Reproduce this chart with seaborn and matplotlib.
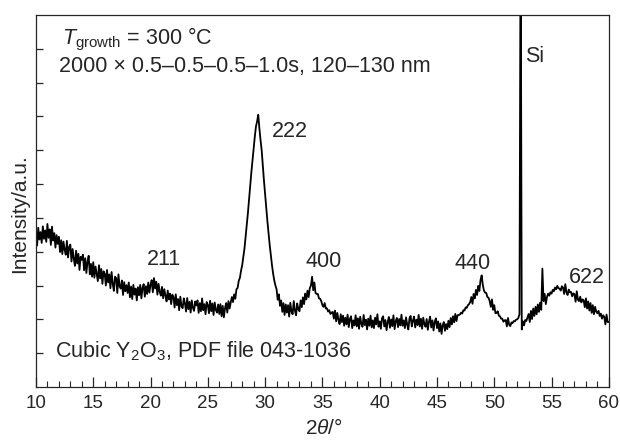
import numpy as np
import pandas as pd
import seaborn as sns
import matplotlib.pyplot as plt

# 2theta grid (0.1 deg steps) and counts
two_theta = np.round(np.arange(10.0, 60.05, 0.1), 1)
intensity = [
    452, 418, 471, 436, 458, 426, 475, 438, 463, 429,   # 10
    482, 441, 466, 420, 474, 433, 455, 412, 449, 423,   # 11
    444, 399, 434, 393, 430, 406, 391, 432, 383, 414,   # 12
    421, 371, 408, 380, 358, 403, 365, 394, 346, 385,   # 13
    376, 391, 345, 381, 337, 370, 388, 333, 364, 326,   # 14
    369, 323, 356, 335, 313, 360, 321, 349, 305, 342,   # 15
    335, 300, 346, 309, 333, 292, 340, 305, 284, 326,   # 16
    322, 278, 333, 297, 291, 315, 272, 310, 283, 301,   # 17
    278, 309, 265, 297, 260, 302, 273, 291, 256, 295,   # 18
    271, 302, 262, 293, 304, 267, 298, 275, 309, 279,   # 19
    303, 316, 280, 322, 291, 311, 273, 305, 282, 270,   # 20
    296, 262, 289, 270, 253, 285, 259, 276, 245, 273,   # 21
    266, 235, 274, 242, 260, 227, 267, 239, 233, 262,   # 22
    248, 223, 263, 230, 252, 220, 256, 234, 225, 253,   # 23
    241, 256, 219, 248, 224, 262, 227, 245, 215, 251,   # 24
    243, 218, 255, 224, 247, 213, 250, 228, 220, 244,   # 25
    216, 245, 209, 240, 206, 233, 248, 220, 254, 232,   # 26
    250, 266, 251, 274, 261, 289, 293, 314, 323, 344,   # 27
    360, 385, 410, 445, 480, 515, 555, 595, 635, 670,   # 28
    705, 740, 770, 785, 805, 765, 730, 700, 655, 610,   # 29
    570, 530, 490, 455, 420, 390, 360, 335, 315, 300,   # 30
    289, 258, 274, 240, 256, 222, 248, 213, 244, 220,   # 31
    242, 208, 249, 223, 215, 254, 226, 212, 247, 230,   # 32
    224, 256, 236, 265, 245, 276, 259, 285, 266, 292,   # 33
    300, 326, 286, 309, 278, 275, 275, 262, 261, 254,   # 34
    242, 237, 248, 232, 232, 223, 227, 216, 220, 222,   # 35
    202, 226, 194, 219, 199, 186, 215, 192, 211, 181,   # 36
    205, 185, 214, 177, 201, 209, 174, 197, 182, 212,   # 37
    179, 203, 172, 208, 186, 178, 213, 183, 199, 170,   # 38
    202, 181, 211, 176, 197, 174, 205, 185, 215, 178,   # 39
    194, 172, 203, 209, 179, 198, 168, 192, 207, 175,   # 40
    200, 180, 212, 171, 195, 204, 177, 201, 182, 214,   # 41
    181, 197, 174, 206, 184, 170, 203, 210, 179, 196,   # 42
    208, 176, 199, 183, 213, 179, 202, 172, 205, 186,   # 43
    178, 201, 169, 193, 208, 176, 197, 167, 192, 203,   # 44
    174, 194, 164, 188, 157, 183, 192, 166, 186, 171,   # 45
    196, 177, 204, 185, 209, 191, 216, 195, 212, 213,   # 46
    214, 220, 217, 227, 226, 235, 234, 242, 245, 251,   # 47
    266, 246, 275, 262, 287, 272, 299, 284, 316, 330,   # 48
    302, 285, 279, 278, 266, 264, 254, 237, 259, 228,   # 49
    242, 218, 219, 224, 211, 209, 202, 202, 193, 197,   # 50
    198, 179, 204, 184, 180, 191, 189, 195, 194, 199,   # 51
    200, 204, 215, 1400, 170, 194, 182, 198, 195, 205,  # 52  (Si)
    216, 192, 225, 201, 232, 210, 237, 215, 244, 222,   # 53
    249, 228, 350, 254, 275, 245, 266, 276, 270, 280,   # 54
    276, 287, 283, 294, 289, 299, 292, 291, 285, 298,   # 55
    294, 275, 304, 280, 272, 288, 280, 281, 268, 277,   # 56
    274, 252, 283, 258, 254, 267, 250, 259, 256, 236,   # 57
    262, 232, 253, 226, 248, 219, 242, 215, 237, 223,   # 58
    218, 225, 210, 217, 202, 212, 207, 185, 214, 192,   # 59
    192,                                                # 60
]

# reflection labels (hkl) and where they sit
peak_labels = ["211", "222", "400", "440", "622", "Si"]
label_x = [19.64, 30.57, 33.52, 46.55, 56.53, 52.71]
label_y = [361, 740, 355, 349, 308, 962]

df = pd.DataFrame({"two_theta": two_theta, "intensity": intensity})

sns.set_style("ticks")
plt.rcParams["font.family"] = ["Liberation Sans", "DejaVu Sans"]
plt.rcParams["mathtext.fontset"] = "custom"
plt.rcParams["mathtext.rm"] = "Liberation Sans"
plt.rcParams["mathtext.it"] = "Liberation Sans:italic"

fig, ax = plt.subplots(figsize=(6.2, 4.4), dpi=100)
fig.subplots_adjust(left=0.058, right=0.982, top=0.966, bottom=0.1205)

sns.lineplot(data=df, x="two_theta", y="intensity", ax=ax,
             color="black", linewidth=1.3, estimator=None, sort=False)

ax.set_xlim(10, 60)
ax.set_ylim(0, 1100)
ax.set_xticks(range(10, 61, 5))
ax.set_xticks(range(10, 61, 1), minor=True)
ax.set_yticks(range(100, 1001, 100))
ax.set_yticklabels([])
ax.tick_params(axis="x", which="major", direction="in", length=7, width=0.9,
               labelsize=13.5, pad=6)
ax.tick_params(axis="x", which="minor", direction="in", length=4, width=0.8)
ax.tick_params(axis="y", which="major", direction="in", length=5, width=0.9)
for sp in ax.spines.values():
    sp.set_linewidth(0.9)
    sp.set_visible(True)

ax.set_xlabel("")
ax.set_ylabel("")
fig.text(324 / 620, 1 - 428 / 440, r"2$\theta$/°", ha="center", va="center",
         fontsize=15)
fig.text(20 / 620, 1 - 214 / 440, "Intensity/a.u.", ha="center", va="center",
         rotation=90, fontsize=15)

for lab, lx, ly in zip(peak_labels, label_x, label_y):
    ax.text(lx, ly, lab, fontsize=15.5, ha="left", va="baseline")

ax.text(12.26, 1012, r"$T_{\mathrm{growth}}$ = 300 °C", fontsize=15.5,
        ha="left", va="baseline")
ax.text(12.0, 932, "2000 × 0.5–0.5–0.5–1.0s, 120–130 nm", fontsize=15.5,
        ha="left", va="baseline")
ax.text(11.65, 86, r"Cubic Y$_2$O$_3$, PDF file 043-1036", fontsize=15.5,
        ha="left", va="baseline")

fig.savefig("out.png", dpi=100)
